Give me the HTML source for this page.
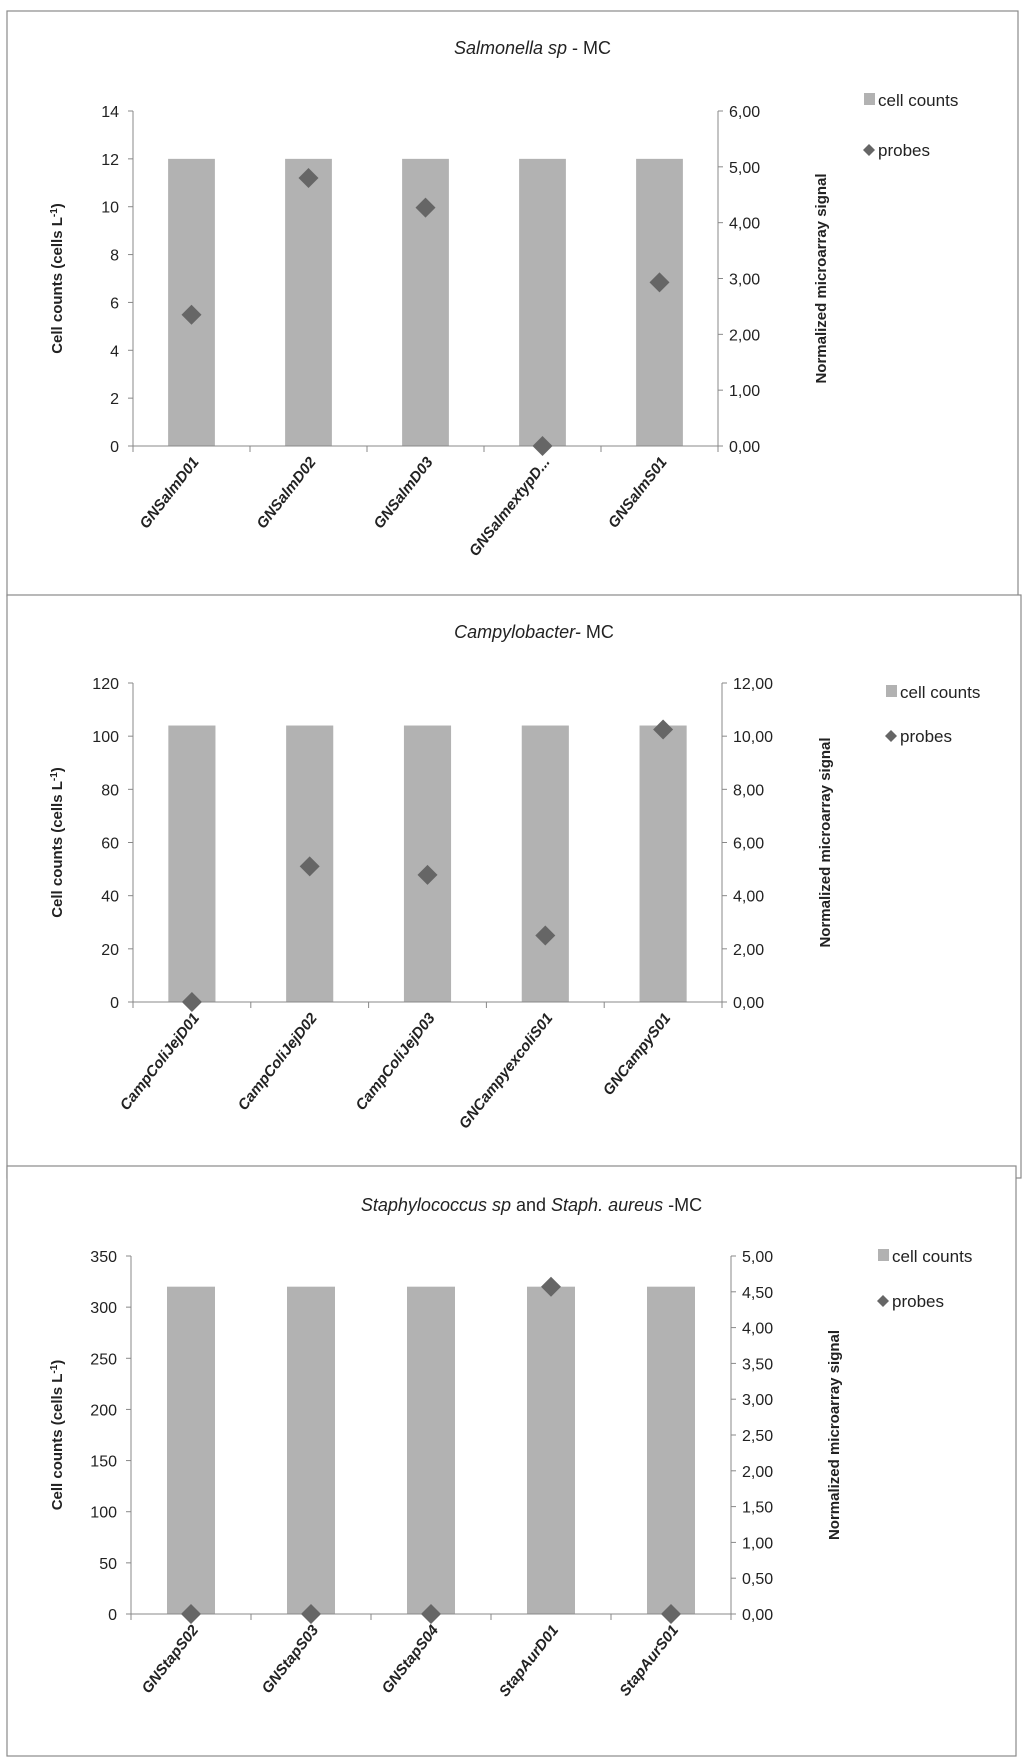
<!DOCTYPE html>
<html><head><meta charset="utf-8"><style>
body{margin:0;background:#fff;width:1024px;height:1760px;overflow:hidden;font-family:"Liberation Sans",sans-serif}
svg{position:absolute;left:0;top:0}
</style></head><body>
<svg id="s" width="1024" height="1760"></svg>
<script>
// Chart 1: Salmonella
const cats1=["GNSalmD01","GNSalmD02","GNSalmD03","GNSalmextypD...","GNSalmS01"];
const counts1=[12,12,12,12,12];
const probes1=[2.35,4.8,4.27,0,2.93];
const leftTicks1=[0,2,4,6,8,10,12,14];
const rightTicks1=["0,00","1,00","2,00","3,00","4,00","5,00","6,00"];
// Chart 2: Campylobacter
const cats2=["CampColiJejD01","CampColiJejD02","CampColiJejD03","GNCampyexcoliS01","GNCampyS01"];
const counts2=[104,104,104,104,104];
const probes2=[0,5.1,4.78,2.5,10.25];
const leftTicks2=[0,20,40,60,80,100,120];
const rightTicks2=["0,00","2,00","4,00","6,00","8,00","10,00","12,00"];
// Chart 3: Staphylococcus
const cats3=["GNStapS02","GNStapS03","GNStapS04","StapAurD01","StapAurS01"];
const counts3=[320,320,320,320,320];
const probes3=[0,0,0,4.57,0];
const leftTicks3=[0,50,100,150,200,250,300,350];
const rightTicks3=["0,00","0,50","1,00","1,50","2,00","2,50","3,00","3,50","4,00","4,50","5,00"];

const NS="http://www.w3.org/2000/svg";
const S=document.getElementById('s');
function mk(tag,attrs,parent,text){const e=document.createElementNS(NS,tag);for(const k in attrs)e.setAttribute(k,attrs[k]);if(text!==undefined)e.textContent=text;(parent||S).appendChild(e);return e;}

function chart(g,cfg,cats,counts,probes,lt,rt){
  const {px0,py0,px1,py1,x0,x1,yTop,yZero,titleY,titleParts,legX,legY1,legY2}=cfg;
  const border=mk('rect',{x:px0,y:py0,width:px1-px0,height:py1-py0,fill:'#fff',stroke:'#8a8a8a','stroke-width':1.2},g);
  
  
  const t=mk('text',{x:(px0+px1)/2+20,y:titleY,'text-anchor':'middle','font-size':18,fill:'#222'},g);
  
  
  titleParts.forEach(p=>{mk('tspan',{'font-style':p[1]?'italic':'normal'},t,p[0]);});
  const lmax=lt[lt.length-1], rmax=parseFloat(rt[rt.length-1].replace(',','.'));
  const yL=v=>yZero-(v/lmax)*(yZero-yTop);
  const yR=v=>yZero-(v/rmax)*(yZero-yTop);
  const n=cats.length, step=(x1-x0)/n, bw=step*0.4;
  const xc=i=>x0+step*(i+0.5);
  counts.forEach((v,i)=>{const b=mk('rect',{x:xc(i)-bw/2,y:yL(v),width:bw,height:yZero-yL(v),fill:'#b2b2b2'},g);
    
    });
  mk('line',{x1:x0,y1:yTop,x2:x0,y2:yZero,stroke:'#888'},g);
  mk('line',{x1:x1,y1:yTop,x2:x1,y2:yZero,stroke:'#888'},g);
  mk('line',{x1:x0-5,y1:yZero,x2:x1+5,y2:yZero,stroke:'#888'},g);
  for(let i=0;i<=n;i++)mk('line',{x1:x0+step*i,y1:yZero,x2:x0+step*i,y2:yZero+6,stroke:'#888'},g);
  lt.forEach(v=>{mk('line',{x1:x0-5,y1:yL(v),x2:x0,y2:yL(v),stroke:'#888'},g);
    const tx=mk('text',{x:x0-14,y:yL(v)+6,'text-anchor':'end','font-size':16,fill:'#222'},g,String(v));
    
    });
  rt.forEach(s=>{const v=parseFloat(s.replace(',','.'));mk('line',{x1:x1,y1:yR(v),x2:x1+5,y2:yR(v),stroke:'#888'},g);
    const tx=mk('text',{x:x1+11,y:yR(v)+6,'font-size':16,fill:'#222'},g,s);
    
    });
  cats.forEach((c,i)=>{const x=xc(i)+8,y=yZero+16;
    const tx=mk('text',{x:x,y:y,'text-anchor':'end','font-size':15,'font-weight':'bold','font-style':'italic',fill:'#222',transform:`rotate(-52 ${x} ${y})`},g,c);
    
    });
  probes.forEach((v,i)=>{const cx=xc(i),cy=yR(v),r=10;
    const d=mk('polygon',{points:`${cx},${cy-r} ${cx+r},${cy} ${cx},${cy+r} ${cx-r},${cy}`,fill:'#666'},g);
    
    });
  const ym=(yTop+yZero)/2;
  const la=mk('text',{x:62,y:ym,'text-anchor':'middle','font-size':15,'font-weight':'bold',fill:'#222',transform:`rotate(-90 62 ${ym})`},g);
  
  
  mk('tspan',{},la,'Cell counts (cells L');mk('tspan',{'font-size':10,dy:-5},la,'-1');mk('tspan',{dy:5},la,')');
  const ra=mk('text',{x:x1+108,y:ym,'text-anchor':'middle','font-size':15,'font-weight':'bold',fill:'#222',transform:`rotate(-90 ${x1+108} ${ym})`},g,'Normalized microarray signal');
  
  
  const l1=mk('g',{},g);
  
  
  mk('rect',{x:legX,y:legY1-7,width:11,height:12,fill:'#b2b2b2'},l1);
  mk('text',{x:legX+14,y:legY1+6,'font-size':17,fill:'#222'},l1,'cell counts');
  const l2=mk('g',{},g);
  
  
  mk('polygon',{points:`${legX+5},${legY2-6} ${legX+11},${legY2} ${legX+5},${legY2+6} ${legX-1},${legY2}`,fill:'#666'},l2);
  mk('text',{x:legX+14,y:legY2+6,'font-size':17,fill:'#222'},l2,'probes');
}
const g1=mk('g',{});
const g2=mk('g',{});
const g3=mk('g',{});
chart(g1,{px0:7,py0:11,px1:1018,py1:596,x0:133,x1:718,yTop:111,yZero:446,titleY:54,
  titleParts:[["Salmonella sp",1],[" - MC",0]],legX:864,legY1:100,legY2:150},cats1,counts1,probes1,leftTicks1,rightTicks1);
chart(g2,{px0:7,py0:595,px1:1021,py1:1178,x0:133,x1:722,yTop:683,yZero:1002,titleY:638,
  titleParts:[["Campylobacter-",1],["  MC",0]],legX:886,legY1:692,legY2:736},cats2,counts2,probes2,leftTicks2,rightTicks2);
chart(g3,{px0:7,py0:1166,px1:1016,py1:1756,x0:131,x1:731,yTop:1256,yZero:1614,titleY:1211,
  titleParts:[["Staphylococcus sp",1],[" and ",0],["Staph.  aureus",1],[" -MC",0]],legX:878,legY1:1256,legY2:1301},cats3,counts3,probes3,leftTicks3,rightTicks3);
</script>
</body></html>
